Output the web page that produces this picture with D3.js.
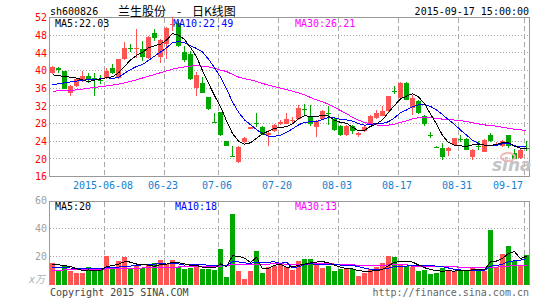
<!DOCTYPE html>
<html>
<head>
<meta charset="utf-8">
<script src="https://cdn.jsdelivr.net/npm/d3@7"></script>
<style>
    body { margin: 0; background: #fff; }
    #chart text { font-family: "DejaVu Sans Mono", "Noto Sans CJK SC", monospace; font-size: 10px; }
</style>
</head>
<body>
<div id="chart"></div>
<script>
// daily bars, 2015-05-26 .. 2015-09-17
const dates = [
    "2015-05-26","2015-05-27","2015-05-28","2015-05-29",
    "2015-06-01","2015-06-02","2015-06-03","2015-06-04","2015-06-05",
    "2015-06-08","2015-06-09","2015-06-10","2015-06-11","2015-06-12",
    "2015-06-15","2015-06-16","2015-06-17","2015-06-18","2015-06-19",
    "2015-06-23","2015-06-24","2015-06-25","2015-06-26",
    "2015-06-29","2015-06-30","2015-07-01","2015-07-02","2015-07-03",
    "2015-07-06","2015-07-07","2015-07-08","2015-07-09","2015-07-10",
    "2015-07-13","2015-07-14","2015-07-15","2015-07-16","2015-07-17",
    "2015-07-20","2015-07-21","2015-07-22","2015-07-23","2015-07-24",
    "2015-07-27","2015-07-28","2015-07-29","2015-07-30","2015-07-31",
    "2015-08-03","2015-08-04","2015-08-05","2015-08-06","2015-08-07",
    "2015-08-10","2015-08-11","2015-08-12","2015-08-13","2015-08-14",
    "2015-08-17","2015-08-18","2015-08-19","2015-08-20","2015-08-21",
    "2015-08-24","2015-08-25","2015-08-26","2015-08-27","2015-08-28",
    "2015-08-31","2015-09-01","2015-09-02",
    "2015-09-07","2015-09-08","2015-09-09","2015-09-10","2015-09-11",
    "2015-09-14","2015-09-15","2015-09-16","2015-09-17"
];

const opens = [
    39.4,40.6,39.9,34.8,36.5,37.6,38.7,38.3,37.9,38.2,
    40.5,38.3,42.5,45.2,45.0,44.8,42.8,48.6,43.0,46.0,
    50.3,50.8,44.2,43.8,36.0,37.2,34.0,28.4,30.6,24.0,
    20.7,19.2,23.9,26.8,28.2,27.1,25.4,26.3,28.0,28.0,
    28.6,29.0,31.3,29.8,27.2,29.0,30.4,29.0,27.5,25.3,
    27.5,25.3,26.2,28.0,29.3,29.7,30.8,35.4,33.8,37.2,
    31.5,33.0,29.7,25.4,22.6,22.5,21.8,23.2,24.6,24.5,
    20.5,23.0,21.6,25.3,23.2,22.9,25.3,21.4,20.2,22.4
];
const highs = [
    41.0,40.7,40.0,36.8,38.3,39.8,39.5,39.5,39.0,40.6,
    41.4,42.6,46.5,46.0,49.3,46.6,47.8,49.5,47.2,49.8,
    52.2,51.3,45.5,44.5,39.7,38.6,34.1,30.4,30.7,24.1,
    23.0,22.8,24.9,27.2,30.3,27.4,26.5,27.9,28.8,30.3,
    29.4,32.2,32.5,32.3,28.7,31.1,32.0,29.5,27.6,27.6,
    27.6,26.0,27.5,29.9,31.1,31.9,34.3,36.4,37.3,37.3,
    34.5,33.4,29.9,26.1,22.9,23.6,22.6,24.8,25.5,24.8,
    22.2,24.1,24.5,25.9,23.8,24.3,25.5,22.3,22.3,24.0
];
const lows = [
    39.2,39.5,35.7,34.3,36.2,37.4,37.2,34.3,37.0,38.0,
    39.2,38.1,42.3,44.2,42.8,42.1,42.5,46.6,41.8,42.5,
    49.0,45.3,42.0,37.8,34.3,34.8,31.1,28.3,25.2,22.8,
    20.6,19.0,23.6,26.7,27.3,25.5,22.9,26.0,27.7,27.8,
    28.2,28.9,29.8,27.4,24.9,28.8,27.6,26.4,25.1,25.2,
    25.7,25.0,26.0,27.9,29.0,29.6,30.5,34.7,33.7,33.3,
    30.0,30.2,27.4,24.8,22.4,19.8,20.6,23.0,23.8,21.9,
    19.8,22.1,21.5,23.8,22.9,22.7,22.5,19.9,20.0,21.7
];
const closes = [
    40.8,40.1,35.9,36.6,38.0,38.7,38.0,37.8,37.6,40.0,
    39.4,42.5,45.0,45.0,45.2,43.0,47.5,47.3,46.8,49.7,
    50.6,45.6,42.3,38.0,39.0,35.0,31.3,28.3,25.5,23.0,
    20.6,22.7,24.8,27.1,28.0,25.7,25.8,27.7,28.3,29.0,
    28.9,31.4,31.1,27.8,28.5,30.8,30.1,26.6,25.3,27.5,
    26.4,25.8,27.2,29.8,30.4,30.9,34.2,35.2,37.2,33.4,
    33.8,30.4,27.8,25.2,22.5,20.5,22.5,24.7,24.4,22.1,
    22.1,22.8,24.2,24.0,23.3,24.1,22.8,20.0,22.0,22.3
];
// volume, x万 (10k lots)
const volumes = [
    15.3,10.6,13.4,10.1,8.2,8.7,12.5,11.1,11.8,20.5,
    12.9,17.2,19.5,11.1,13.4,11.8,14.1,15.8,17.6,14.5,
    17.8,12.9,11.5,12.2,14.8,11.5,11.5,10.6,25.4,5.4,
    50.0,9.9,4.2,9.9,24.0,8.7,12.9,13.4,14.8,12.9,
    10.6,17.2,18.6,18.6,15.8,12.2,13.4,10.1,11.1,11.3,
    11.1,6.6,8.7,11.1,12.9,15.3,20.7,20.0,14.1,13.4,
    12.9,9.9,10.6,7.8,8.7,12.2,10.6,9.9,9.9,9.9,
    12.5,10.6,9.9,38.8,12.9,21.9,27.5,16.7,14.1,21.2
];

// moving averages as plotted on the price panel
const ma5 = [
    39.0,38.9,38.6,38.5,38.28,37.86,37.44,37.82,38.02,38.42,
    38.56,39.46,40.9,42.38,43.42,44.14,45.14,45.6,45.96,46.86,
    48.38,48.0,47.0,45.24,43.1,39.98,37.12,34.32,31.82,28.62,
    25.74,24.02,23.32,23.64,24.64,25.66,26.28,26.86,27.1,27.3,
    27.94,29.06,29.74,29.64,29.54,29.92,29.66,28.76,28.26,28.06,
    27.18,26.32,26.44,27.34,27.92,28.82,30.5,32.1,33.58,34.18,
    34.76,34.0,32.52,30.12,27.94,25.28,23.7,23.08,22.92,22.84,
    23.16,23.22,23.12,23.04,23.28,23.68,23.68,22.84,22.44,22.24
];
const ma10 = [
    36.8,37.0,37.2,37.4,37.6,37.8,37.9,38.0,38.1,38.35,
    38.21,38.45,39.36,40.2,40.92,41.35,42.3,43.25,44.17,45.14,
    46.26,46.57,46.3,45.6,44.98,44.18,42.56,40.66,38.53,35.86,
    32.86,30.57,28.82,27.73,26.63,25.7,25.15,25.09,25.37,25.97,
    26.8,27.67,28.3,28.37,28.42,28.93,29.36,29.25,28.95,28.8,
    28.55,27.99,27.6,27.8,27.99,28.0,28.41,29.27,30.46,31.05,
    31.79,32.25,32.31,31.85,31.06,30.02,28.85,27.8,26.52,25.39,
    24.22,23.46,23.1,22.98,23.06,23.42,23.45,22.98,22.74,22.76
];
const ma30 = [
    35.3,35.4,35.4,35.5,35.6,35.8,36.0,36.2,36.3,36.5,
    36.7,36.9,37.2,37.5,37.9,38.3,38.7,39.1,39.5,39.9,
    40.3,40.6,40.8,41.0,41.1,41.0,40.8,40.5,40.1,39.78,
    39.11,38.53,38.16,37.85,37.51,37.08,36.67,36.34,36.03,35.66,
    35.31,34.94,34.48,33.9,33.35,32.94,32.36,31.67,30.95,30.21,
    29.41,28.75,28.24,27.97,27.68,27.54,27.64,27.87,28.26,28.61,
    29.05,29.31,29.41,29.34,29.16,28.99,28.88,28.78,28.65,28.42,
    28.19,27.91,27.68,27.55,27.38,27.15,26.91,26.69,26.58,26.41
];

// moving averages on the volume panel
const vma5 = [
    14.5,14.2,13.8,13.0,11.5,10.2,10.6,10.1,10.5,12.9,
    13.8,14.7,16.4,16.2,14.8,14.6,14.0,13.2,14.5,14.8,
    16.0,15.7,14.9,13.8,13.8,12.6,12.3,12.1,14.8,12.9,
    20.6,20.3,19.0,15.9,19.6,11.3,11.9,13.8,14.8,12.5,
    12.9,13.8,14.8,15.6,16.2,16.5,15.7,14.0,12.5,11.6,
    11.4,10.0,9.8,9.8,10.1,10.9,13.7,16.0,16.6,16.7,
    16.2,14.1,12.2,10.9,10.0,9.8,10.0,9.8,10.3,10.5,
    10.6,10.6,10.6,16.3,16.9,18.8,22.2,23.6,18.6,20.3
];
const vma10 = [
    12.3,12.2,12.1,12.0,11.9,11.8,11.7,11.6,11.5,12.2,
    12.0,12.6,13.3,13.4,13.9,14.2,14.3,14.8,15.4,14.8,
    15.3,14.9,14.1,14.2,14.3,14.3,14.0,13.5,14.3,13.4,
    16.6,16.3,15.6,15.3,16.2,16.0,16.1,16.4,15.3,16.1,
    12.1,12.9,14.3,15.2,14.4,14.7,14.8,14.4,14.1,13.9,
    13.9,12.9,11.9,11.1,10.9,11.2,11.9,12.9,13.2,13.4,
    13.6,13.9,14.1,13.8,13.3,13.0,12.0,11.0,10.6,10.2,
    10.2,10.3,10.2,13.3,13.7,14.7,16.4,17.1,17.5,18.6
];
const vma30 = [
    10.4,10.5,10.6,10.6,10.7,10.8,10.9,11.0,11.1,11.3,
    11.4,11.5,11.7,11.8,11.9,12.0,12.1,12.2,12.4,12.5,
    12.6,12.7,12.8,12.9,13.0,13.0,13.1,13.1,13.4,13.5,
    14.6,14.6,14.3,14.3,14.8,14.8,14.8,14.9,15.0,14.7,
    14.7,14.7,14.6,14.9,15.0,15.0,15.0,14.8,14.6,14.4,
    14.2,14.0,13.9,13.9,13.8,13.9,14.2,14.6,14.2,14.5,
    13.2,13.2,13.4,13.4,12.9,13.0,12.9,12.8,12.6,12.5,
    12.6,12.4,12.1,12.7,12.6,13.0,13.4,13.7,13.8,14.1
];

const priceTicks = [16, 20, 24, 28, 32, 36, 40, 44, 48, 52];
const volTicks = [20, 40, 60];
const dateTicks = ["2015-06-08","2015-06-23","2015-07-06","2015-07-20","2015-08-03","2015-08-17","2015-08-31","2015-09-17"];
const dateLabels = ["2015-06-08","06-23","07-06","07-20","08-03","08-17","08-31","09-17"];

const priceLegend = ["MA5:22.03", "MA10:22.49", "MA30:26.21"];
const volLegend = ["MA5:20", "MA10:18", "MA30:13"];

class KChart {
    constructor(_parentElement) {
        this.parentElement = _parentElement;
        this.initVis();
    }

    initVis() {
        let vis = this;
        vis.width = 545;
        vis.height = 300;
        vis.red = "#ff5454";
        vis.green = "#00a800";
        vis.grid = "#a8a8a8";
        vis.maColors = ["#000000", "#0000ff", "#ff00ff"];

        vis.svg = d3.select("#" + vis.parentElement).append("svg")
            .attr("width", vis.width)
            .attr("height", vis.height);

        vis.x = d3.scaleBand().domain(dates).range([50, 530]);
        vis.y = d3.scaleLinear().domain([16, 52]).range([176.5, 17.5]);
        vis.yv = d3.scaleLinear().domain([0, 60]).range([285, 200]);

        vis.data = dates.map((d, i) => ({
            date: d, o: opens[i], h: highs[i], l: lows[i], c: closes[i], v: volumes[i]
        }));

        vis.drawFrame();
        vis.drawPrice();
        vis.drawVolume();
        vis.drawTexts();
    }

    drawFrame() {
        let vis = this;
        const crisp = v => Math.floor(v) + 0.5;
        const g = vis.svg.append("g").attr("class", "frame").attr("shape-rendering", "crispEdges");

        // dotted horizontal grid
        g.selectAll(".hgrid")
            .data(priceTicks.filter(t => t > 16 && t < 52))
            .enter().append("line")
            .attr("class", "hgrid")
            .attr("x1", 50).attr("x2", 529)
            .attr("y1", d => crisp(vis.y(d))).attr("y2", d => crisp(vis.y(d)))
            .attr("stroke", vis.grid).attr("stroke-dasharray", "1,2");

        g.selectAll(".vhgrid")
            .data(volTicks.filter(t => t < 60))
            .enter().append("line")
            .attr("class", "vhgrid")
            .attr("x1", 50).attr("x2", 529)
            .attr("y1", d => crisp(vis.yv(d))).attr("y2", d => crisp(vis.yv(d)))
            .attr("stroke", vis.grid).attr("stroke-dasharray", "1,2");

        // dashed verticals on the date ticks, both panels
        [[18, 176], [202, 285]].forEach(([y0, y1]) => {
            g.selectAll(null)
                .data(dateTicks)
                .enter().append("line")
                .attr("x1", d => vis.x(d) + 0.5).attr("x2", d => vis.x(d) + 0.5)
                .attr("y1", y0).attr("y2", y1)
                .attr("stroke", vis.grid).attr("stroke-dasharray", "5,3");
        });

        // panel borders
        g.append("rect")
            .attr("x", 49.5).attr("y", crisp(vis.y(52)))
            .attr("width", 480).attr("height", crisp(vis.y(16)) - crisp(vis.y(52)))
            .attr("fill", "none").attr("stroke", "#999");

        g.append("path")
            .attr("d", "M49.5,285 V201.5 H529.5 V285")
            .attr("fill", "none").attr("stroke", "#999");
    }

    drawPrice() {
        let vis = this;
        const up = d => d.c >= d.o;
        const g = vis.svg.append("g").attr("class", "candles").attr("shape-rendering", "crispEdges");

        // sina watermark
        vis.svg.append("ellipse")
            .attr("cx", 508).attr("cy", 157).attr("rx", 7).attr("ry", 4)
            .attr("fill", "none").attr("stroke", "#f3b8b8").attr("stroke-width", 2);
        vis.svg.append("text")
            .attr("x", 492).attr("y", 171)
            .style("font-family", "'DejaVu Sans', sans-serif")
            .style("font-size", "17px").style("font-style", "italic").style("font-weight", "bold")
            .attr("fill", "#c4c4c4")
            .text("sina");

        g.selectAll(".wick")
            .data(vis.data)
            .enter().append("line")
            .attr("class", "wick")
            .attr("x1", d => vis.x(d.date) + 2.5).attr("x2", d => vis.x(d.date) + 2.5)
            .attr("y1", d => vis.y(d.h)).attr("y2", d => vis.y(d.l))
            .attr("stroke", d => up(d) ? vis.red : vis.green);

        g.selectAll(".body")
            .data(vis.data)
            .enter().append("rect")
            .attr("class", "body")
            .attr("x", d => vis.x(d.date))
            .attr("width", 5)
            .attr("y", d => vis.y(Math.max(d.o, d.c)))
            .attr("height", d => Math.max(1, Math.abs(vis.y(d.o) - vis.y(d.c))))
            .attr("fill", d => up(d) ? vis.red : vis.green);

        const line = d3.line()
            .x((d, i) => vis.x(dates[i]) + 2.5)
            .y(d => vis.y(d));

        [ma30, ma10, ma5].forEach((s, k) => {
            vis.svg.append("path")
                .datum(s)
                .attr("d", line)
                .attr("fill", "none")
                .attr("stroke", vis.maColors[2 - k])
                .attr("stroke-width", 1)
                .attr("shape-rendering", "crispEdges");
        });

        // price axis labels
        const yAxis = d3.axisLeft(vis.y).tickValues(priceTicks).tickSize(0).tickPadding(3);
        const ax = vis.svg.append("g")
            .attr("class", "y-axis")
            .attr("transform", "translate(50,0)")
            .call(yAxis);
        ax.select(".domain").remove();
        ax.selectAll("text").attr("fill", "#ff0000").style("font-size", "10px");

        // legend
        vis.svg.selectAll(".price-legend")
            .data(priceLegend)
            .enter().append("text")
            .attr("class", "price-legend")
            .attr("x", (d, i) => [55, 173, 295][i])
            .attr("y", 27)
            .attr("fill", (d, i) => vis.maColors[i])
            .text(d => d);
    }

    drawVolume() {
        let vis = this;
        const up = d => d.c >= d.o;

        vis.svg.append("g").attr("class", "vol").attr("shape-rendering", "crispEdges")
            .selectAll(".bar")
            .data(vis.data)
            .enter().append("rect")
            .attr("class", "bar")
            .attr("x", d => vis.x(d.date))
            .attr("width", 5)
            .attr("y", d => vis.yv(d.v))
            .attr("height", d => vis.yv(0) - vis.yv(d.v))
            .attr("fill", d => up(d) ? vis.red : vis.green);

        const line = d3.line()
            .x((d, i) => vis.x(dates[i]) + 2.5)
            .y(d => vis.yv(d));

        [vma30, vma10, vma5].forEach((s, k) => {
            vis.svg.append("path")
                .datum(s)
                .attr("d", line)
                .attr("fill", "none")
                .attr("stroke", vis.maColors[2 - k])
                .attr("stroke-width", 1)
                .attr("shape-rendering", "crispEdges");
        });

        const vAxis = d3.axisLeft(vis.yv).tickValues(volTicks).tickSize(0).tickPadding(3);
        const ax = vis.svg.append("g")
            .attr("class", "v-axis")
            .attr("transform", "translate(50,0)")
            .call(vAxis);
        ax.select(".domain").remove();
        ax.selectAll("text").attr("fill", "#a0a0a0").style("font-size", "10px");

        vis.svg.append("text")
            .attr("x", 45).attr("y", 283)
            .attr("text-anchor", "end")
            .attr("fill", "#b0b0b0")
            .style("font-style", "italic")
            .text("x万");

        vis.svg.selectAll(".vol-legend")
            .data(volLegend)
            .enter().append("text")
            .attr("class", "vol-legend")
            .attr("x", (d, i) => [55, 175, 295][i])
            .attr("y", 210)
            .attr("fill", (d, i) => vis.maColors[i])
            .text(d => d);
    }

    drawTexts() {
        let vis = this;

        // date labels under the price panel
        vis.svg.selectAll(".date-label")
            .data(dateTicks)
            .enter().append("text")
            .attr("class", "date-label")
            .attr("x", d => vis.x(d) - 1)
            .attr("y", 189)
            .attr("text-anchor", (d, i) => i === dateTicks.length - 1 ? "end" : "middle")
            .attr("fill", "#1580d0")
            .text((d, i) => dateLabels[i]);

        vis.svg.append("text")
            .attr("x", 50).attr("y", 15)
            .attr("fill", "#000")
            .text("sh600826");

        const title = vis.svg.append("text")
            .attr("y", 15.5)
            .style("font-family", "'Noto Sans CJK SC', sans-serif")
            .style("font-size", "12px")
            .attr("fill", "#000");
        title.append("tspan").attr("x", 118).text("兰生股份");
        title.append("tspan").attr("x", 177).text("-");
        title.append("tspan").attr("x", 192).text("日K线图");

        vis.svg.append("text")
            .attr("x", 529).attr("y", 15)
            .attr("text-anchor", "end")
            .attr("fill", "#000")
            .text("2015-09-17 15:00:00");

        vis.svg.append("text")
            .attr("x", 50).attr("y", 296)
            .attr("fill", "#444")
            .text("Copyright 2015 SINA.COM");

        vis.svg.append("text")
            .attr("x", 529).attr("y", 296)
            .attr("text-anchor", "end")
            .attr("fill", "#666")
            .text("http://finance.sina.com.cn");
    }
}

new KChart("chart");
</script>
</body>
</html>
